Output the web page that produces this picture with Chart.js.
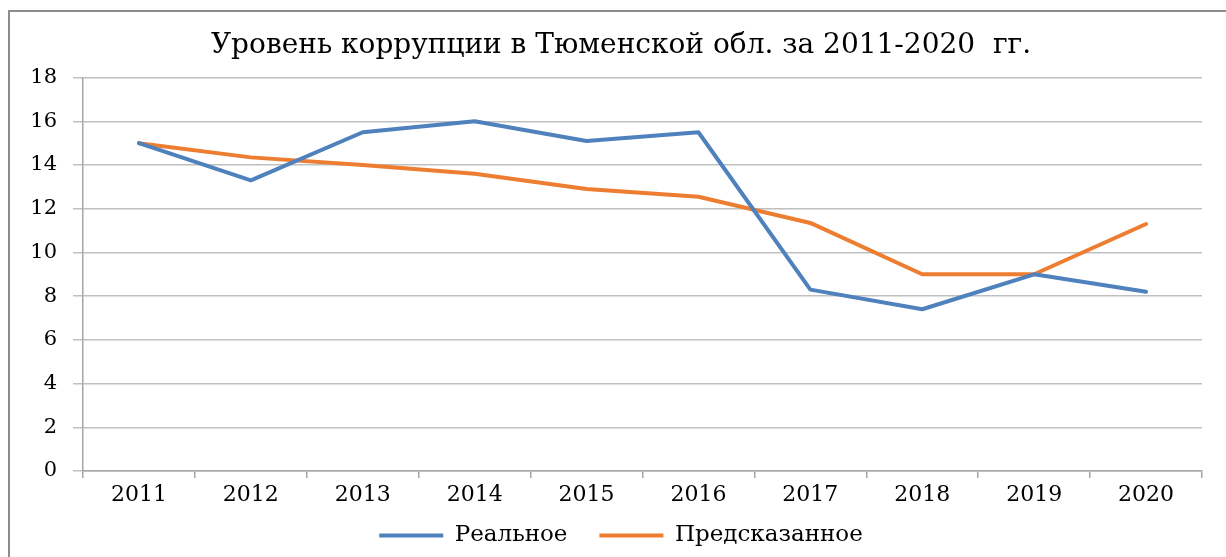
<!DOCTYPE html>
<html>
<head>
<meta charset="utf-8">
<script src="https://cdn.jsdelivr.net/npm/chart.js@4"></script>
<style>
  html, body { margin: 0; padding: 0; background: #fff; overflow: hidden; }
</style>
</head>
<body>
<canvas id="chart" width="1226" height="557"></canvas>
<script>
const years = ["2011", "2012", "2013", "2014", "2015", "2016", "2017", "2018", "2019", "2020"];
const realValues = [15, 13.3, 15.5, 16, 15.1, 15.5, 8.3, 7.4, 9, 8.2];
const predictedValues = [15, 14.35, 14.0, 13.6, 12.9, 12.55, 11.35, 9, 9, 11.3];
const yTicks = [0, 2, 4, 6, 8, 10, 12, 14, 16, 18];

const serif = "'DejaVu Serif', 'Liberation Serif', serif";

// grey frame on the left and top edges, like the reference picture
const framePlugin = {
    id: "frame",
    afterLayout(chart) {
        // title and legend sit a little right of the plot centre in the original
        [chart.titleBlock, chart.legend].forEach(box => {
            if (box) { box.left += 10; box.right += 10; }
        });
    },
    beforeDraw(chart) {
        const ctx = chart.ctx;
        ctx.save();
        ctx.fillStyle = "#fff";
        ctx.fillRect(0, 0, chart.width, chart.height);
        ctx.strokeStyle = "#8c8c8c";
        ctx.lineWidth = 2;
        ctx.beginPath();
        ctx.moveTo(9, chart.height);
        ctx.lineTo(9, 11);
        ctx.lineTo(chart.width, 11);
        ctx.stroke();
        ctx.restore();
    }
};

new Chart(document.getElementById("chart"), {
    type: "line",
    data: {
        labels: years,
        datasets: [
            {
                label: "Реальное   ",
                data: realValues,
                borderColor: "#4f81bd",
                backgroundColor: "#4f81bd",
                borderWidth: 4,
                pointRadius: 0,
                tension: 0,
                borderCapStyle: "round",
                borderJoinStyle: "round"
            },
            {
                label: "Предсказанное",
                data: predictedValues,
                borderColor: "#ed7d31",
                backgroundColor: "#ed7d31",
                borderWidth: 4,
                pointRadius: 0,
                tension: 0,
                borderCapStyle: "round",
                borderJoinStyle: "round"
            }
        ]
    },
    options: {
        responsive: false,
        devicePixelRatio: 1,
        animation: false,
        layout: { padding: { left: 20, right: 24, top: 0, bottom: 0 } },
        plugins: {
            title: {
                display: true,
                text: "Уровень коррупции в Тюменской обл. за 2011-2020  гг.",
                color: "#000",
                font: { family: serif, size: 28, weight: "normal", lineHeight: 1.2 },
                padding: { top: 29, bottom: 15 }
            },
            legend: {
                position: "bottom",
                labels: {
                    color: "#000",
                    font: { family: serif, size: 23 },
                    usePointStyle: true,
                    pointStyle: "line",
                    pointStyleWidth: 64,
                    padding: 10
                }
            },
            tooltip: { enabled: false }
        },
        scales: {
            x: {
                offset: true,
                grid: { drawOnChartArea: false, offset: true, tickLength: 7, color: "#a6a6a6", lineWidth: 1.5 },
                border: { display: true, color: "#a6a6a6", width: 1.5 },
                ticks: { color: "#000", font: { family: serif, size: 22 }, padding: 4, maxRotation: 0 },
                afterFit: function (scale) { scale.height = 43; }
            },
            y: {
                min: 0,
                max: 18,
                afterBuildTicks: function (scale) { scale.ticks = yTicks.map(v => ({ value: v })); },
                grid: { color: "#c0c0c0", lineWidth: 1.5, tickLength: 10 },
                border: { display: true, color: "#a6a6a6", width: 1.5 },
                ticks: { color: "#000", font: { family: serif, size: 21 }, padding: 16 },
                afterFit: function (scale) { scale.width = 63; }
            }
        }
    },
    plugins: [framePlugin]
});
</script>
</body>
</html>
